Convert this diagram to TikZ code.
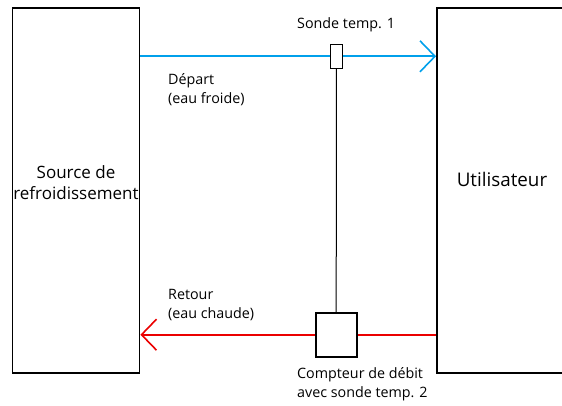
\documentclass[tikz,border=0pt]{standalone}
\usepackage{fontspec}
\setmainfont{Open Sans}
\usetikzlibrary{arrows.meta}
\pgfdeclarelayer{pipes}
\pgfsetlayers{pipes,main}
\definecolor{coldblue}{RGB}{0,160,235}
\definecolor{hotred}{RGB}{235,0,0}
\tikzset{
  unitbox/.style={draw=black, line width=1.8pt, fill=white, inner sep=0pt},
  lbl/.style={anchor=west, inner sep=0pt, align=left, font=\fontsize{14.3}{19}\selectfont},
  sensor/.style={draw=black, line width=1.2pt, fill=white, inner sep=0pt},
  pipe/.style={line width=1.8pt},
  barb/.style={-{Straight Barb[length=15pt, width=31pt, line width=1.6pt]}},
  wire/.style={draw=black, line width=1pt}
}
\begin{document}
\begin{tikzpicture}[x=1pt,y=-1pt]
\useasboundingbox (0,0) rectangle (562,405);
\clip (0,0) rectangle (562,405);
\node[unitbox, minimum width=127pt, minimum height=365pt] (src) at (76,190.7) {};
\node[font=\fontsize{17}{21}\selectfont, align=center, inner sep=0pt] (srclbl) at (76,183) {Source de\\refroidissement};
\node[unitbox, minimum width=128pt, minimum height=365pt] (user) at (501,190.7) {};
\node[font=\fontsize{18.8}{20}\selectfont, inner sep=0pt] (userlbl) at (502,179) {Utilisateur};
\node[sensor, line width=1.6pt, minimum width=41pt, minimum height=44pt] (meter) at (336.2,334.7) {};
\node[sensor, minimum width=12pt, minimum height=24pt] (probe) at (336.4,56.3) {};
\begin{pgfonlayer}{pipes}
\draw[pipe, draw=hotred, barb] (user.west |- meter.center) -- (src.east |- meter.center);
\draw[pipe, draw=coldblue, barb] (src.east |- probe.center) -- (user.west |- probe.center);
\end{pgfonlayer}
\draw[wire] (probe.south) -- (meter.north);
\node[lbl] (t1) at (297,25) {Sonde temp. 1};
\node[lbl] (dep) at (168,89.5) {Départ\\(eau froide)};
\node[lbl] (ret) at (168,305.5) {Retour\\(eau chaude)};
\node[lbl] (cpt) at (297,384.5) {Compteur de débit\\avec sonde temp. 2};
\end{tikzpicture}
\end{document}
